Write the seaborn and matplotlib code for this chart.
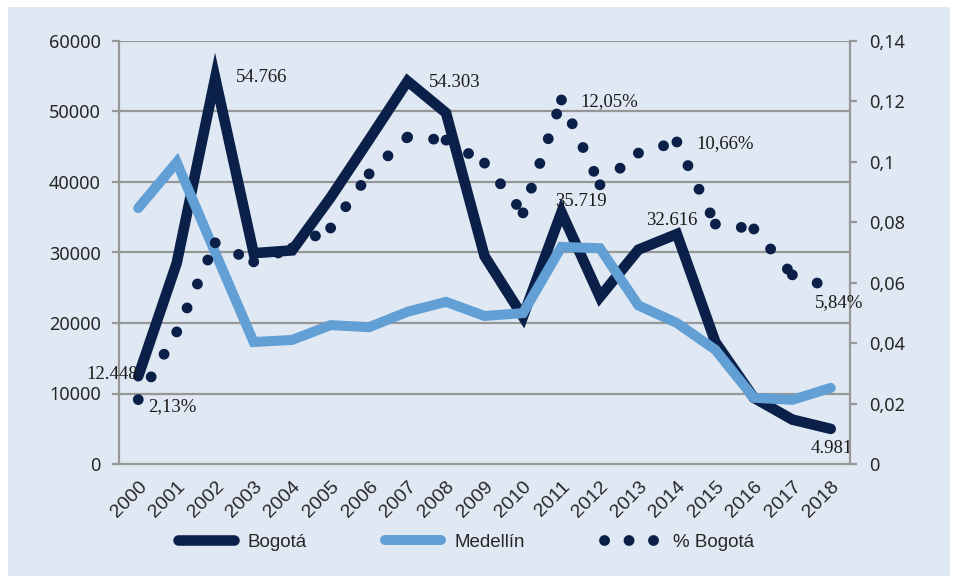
import numpy as np
import matplotlib
matplotlib.use("Agg")
import matplotlib.pyplot as plt
import matplotlib.ticker as ticker
from matplotlib.lines import Line2D
from matplotlib.patches import Rectangle
import seaborn as sns

years = [str(y) for y in range(2000, 2019)]
bogota = [12448, 28500, 54766, 29900, 30300, 37800, 46000, 54303, 49800, 29500,
          20900, 35719, 23700, 30400, 32616, 17300, 9400, 6300, 4981]
medellin = [36300, 42800, 30000, 17300, 17600, 19700, 19400, 21600, 23000, 21000,
            21400, 30800, 30600, 22500, 20000, 16200, 9400, 9100, 10800]
pct_bogota = [0.0213, 0.0437, 0.0732, 0.0669, 0.0715, 0.0781, 0.0960, 0.1082, 0.1072, 0.0996,
              0.0831, 0.1205, 0.0924, 0.1029, 0.1066, 0.0794, 0.0778, 0.0626, 0.0584]

left_ticks = [0, 10000, 20000, 30000, 40000, 50000, 60000]
right_ticks = [0, 0.02, 0.04, 0.06, 0.08, 0.1, 0.12, 0.14]
right_labels = ["0", "0,02", "0,04", "0,06", "0,08", "0,1", "0,12", "0,14"]

NAVY = "#0b2049"
LIGHT = "#629fd5"
BG = "#e0e9f3"
GRID = "#979797"

sns.set_style("white")
plt.rcParams["font.family"] = ["Liberation Sans", "DejaVu Sans"]

fig = plt.figure(figsize=(9.55, 5.76), dpi=100)
fig.patch.set_facecolor("white")
fig.patches.append(Rectangle((8 / 955, 0), 942 / 955, 1 - 7 / 576, transform=fig.transFigure,
                             facecolor=BG, edgecolor="none", zorder=-10))

ax = fig.add_axes([119 / 955, 1 - 464 / 576, (850 - 119) / 955, (464 - 41) / 576])
ax.set_facecolor("none")
ax2 = ax.twinx()

x = np.arange(len(years))

# grid lines (left axis)
for v in left_ticks[1:]:
    ax.axhline(v, color=GRID, lw=1.6, zorder=0)

sns.lineplot(x=x, y=medellin, ax=ax, color=LIGHT, lw=7.2, solid_capstyle="round",
             solid_joinstyle="miter", zorder=3)
sns.lineplot(x=x, y=bogota, ax=ax, color=NAVY, lw=7.6, solid_capstyle="round",
             solid_joinstyle="miter", zorder=2)

# dotted series: pattern restarts at every vertex, like the original
DOTS = (0, (0.01, 2.4))
for i in range(len(x) - 1):
    ax2.plot([x[i], x[i + 1]], pct_bogota[i:i + 2], color=NAVY, lw=7.8,
             linestyle=DOTS, dash_capstyle="round", zorder=4)

ax.set_xlim(-0.5, len(years) - 0.5)
ax.set_ylim(0, 60000)
ax2.set_ylim(0, 0.14)

ax.set_yticks(left_ticks)
ax.set_yticklabels([str(v) for v in left_ticks], fontsize=13, family=["Noto Sans", "DejaVu Sans"])
ax2.set_yticks(right_ticks)
ax2.set_yticklabels(right_labels, fontsize=13, family=["Noto Sans", "DejaVu Sans"])

ax.xaxis.set_major_locator(ticker.FixedLocator(np.arange(-0.5, len(years), 1.0)))
ax.xaxis.set_major_formatter(ticker.NullFormatter())
ax.xaxis.set_minor_locator(ticker.FixedLocator(x))
ax.xaxis.set_minor_formatter(ticker.FixedFormatter(years))
ax.tick_params(axis="x", which="major", length=5, width=1.6, color=GRID, direction="out")
ax.tick_params(axis="x", which="minor", length=0, pad=10, labelsize=14)
for lab in ax.get_xticklabels(minor=True):
    lab.set_rotation(45)
    lab.set_ha("right")
    lab.set_rotation_mode("anchor")

ax.tick_params(axis="y", length=5, width=1.6, color=GRID, pad=8)
ax2.tick_params(axis="y", length=5, width=1.6, color=GRID, pad=9)

for a in (ax, ax2):
    a.spines["top"].set_visible(False)
    for s in ("left", "right", "bottom"):
        a.spines[s].set_color(GRID)
        a.spines[s].set_linewidth(1.6)
ax.spines["right"].set_visible(False)
ax2.spines["left"].set_visible(False)
ax2.spines["bottom"].set_visible(False)

# data labels
ser = dict(family=["Liberation Serif", "DejaVu Serif"], fontsize=13.5, color="#1a1a1a")
ax.annotate("54.766", (2, 54766), xytext=(15, 0), textcoords="offset points", va="center", ha="left", **ser)
ax.annotate("54.303", (7, 54303), xytext=(15, -1), textcoords="offset points", va="center", ha="left", **ser)
ax.annotate("35.719", (11, 35719), xytext=(14, 8), textcoords="offset points", va="center", ha="center", **ser)
ax.annotate("32.616", (14, 32616), xytext=(-4, 10), textcoords="offset points", va="center", ha="center", **ser)
ax.annotate("12.448", (0, 12448), xytext=(0, 1), textcoords="offset points", va="center", ha="right", **ser)
ax.annotate("4.981", (18, 4981), xytext=(1, -14), textcoords="offset points", va="center", ha="center", **ser)
ax2.annotate("2,13%", (0, 0.0213), xytext=(7, -5), textcoords="offset points", va="center", ha="left", **ser)
ax2.annotate("12,05%", (11, 0.1205), xytext=(14, -1), textcoords="offset points", va="center", ha="left", **ser)
ax2.annotate("10,66%", (14, 0.1066), xytext=(14, -1), textcoords="offset points", va="center", ha="left", **ser)
ax2.annotate("5,84%", (18, 0.0584), xytext=(6, -11), textcoords="offset points", va="center", ha="center", **ser)

handles = [
    Line2D([], [], color=NAVY, lw=7.6, solid_capstyle="round"),
    Line2D([], [], color=LIGHT, lw=7.2, solid_capstyle="round"),
    Line2D([], [], color=NAVY, lw=7.8, linestyle=(0, (0.01, 2.25)), dash_capstyle="round"),
]
fig.legend(handles, ["Bogotá", "Medellín", "% Bogotá"], loc="center",
           bbox_to_anchor=(466 / 955, 1 - 542 / 576), ncol=3, frameon=False,
           fontsize=13.5, handlelength=3.0, handletextpad=0.7, columnspacing=4.2)

fig.savefig("out.png", dpi=100, facecolor=fig.get_facecolor())
